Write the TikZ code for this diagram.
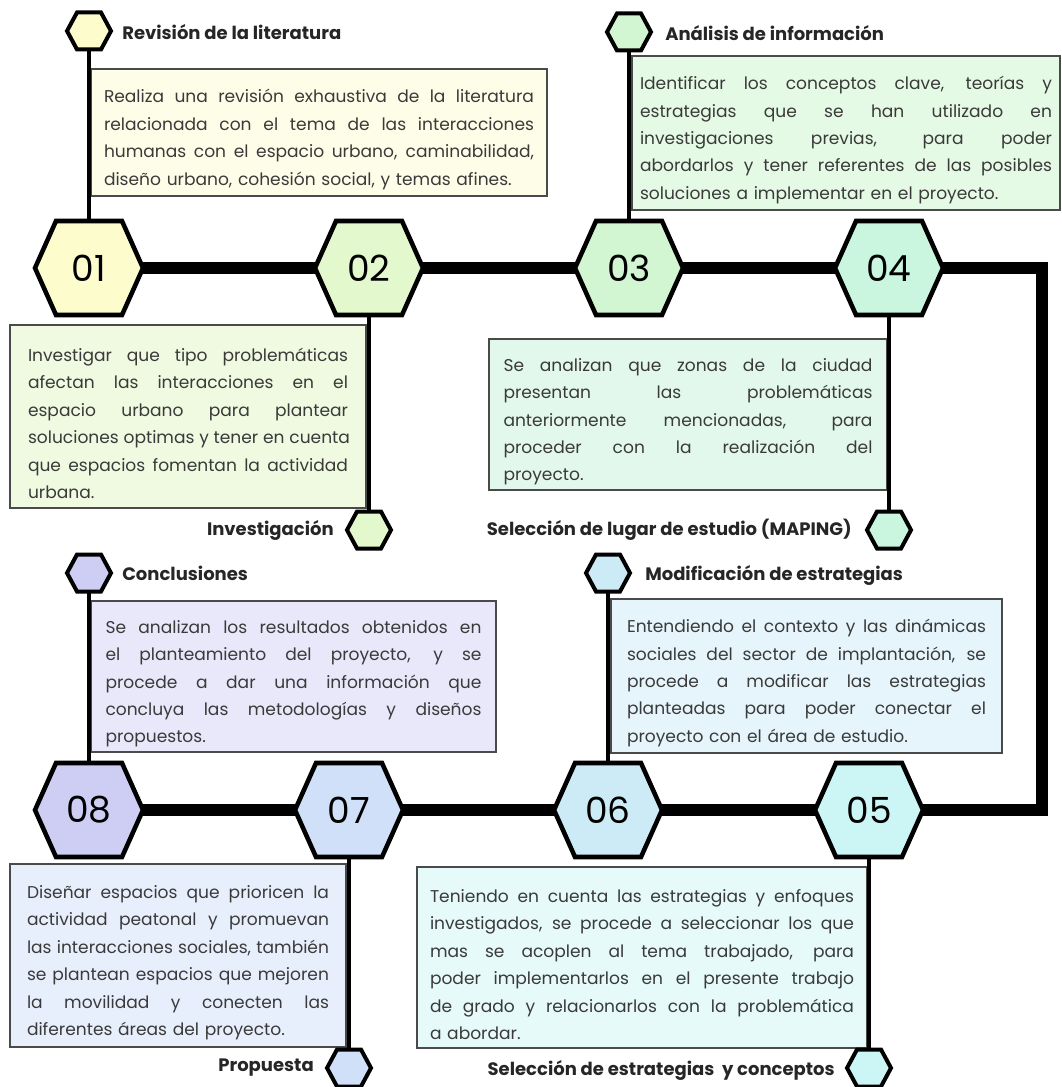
\documentclass[tikz,border=0pt]{standalone}
\usepackage{fontspec}
\setmainfont{Poppins}
\newdimen\px \px=0.75pt
\definecolor{hA}{HTML}{FCFCCC}\definecolor{bA}{HTML}{FEFEE8}
\definecolor{hB}{HTML}{E3F8CC}\definecolor{bB}{HTML}{EFFAE1}
\definecolor{hC}{HTML}{D2F5D2}\definecolor{bC}{HTML}{E4FAE4}
\definecolor{hD}{HTML}{CAF5DE}\definecolor{bD}{HTML}{E2F8EC}
\definecolor{hE}{HTML}{CCF5F5}\definecolor{bE}{HTML}{E6FAFA}
\definecolor{hF}{HTML}{CDEBF7}\definecolor{bF}{HTML}{E6F5FB}
\definecolor{hG}{HTML}{CFE0F8}\definecolor{bG}{HTML}{E8EFFC}
\definecolor{hH}{HTML}{CECEF5}\definecolor{bH}{HTML}{E8E8FA}
\definecolor{boxgray}{HTML}{4A4A4A}
\definecolor{txtgray}{HTML}{3A3A3A}
\definecolor{ttlgray}{HTML}{262626}
\newcommand{\JL}[1]{\par\hbox to \hsize{\spaceskip=0.28em plus 20em\relax #1}}
\newcommand{\LL}[1]{\par\hbox to \hsize{#1\hfil}}
\newcommand{\HexBig}[2]{\draw[bighexline, fill=#2] (#1) ++(-54,0) -- ++(21,-47) -- ++(66,0) -- ++(21,47) -- ++(-21,47) -- ++(-66,0) -- cycle;}
\newcommand{\HexSmall}[2]{\draw[smallhexline, fill=#2] (#1) ++(-22,0) -- ++(10,-18.5) -- ++(24,0) -- ++(10,18.5) -- ++(-10,18.5) -- ++(-24,0) -- cycle;}
\tikzset{
  bighexline/.style={line width=3.4pt, draw=black, line join=miter},
  smallhexline/.style={line width=3pt, draw=black, line join=miter},
  mainline/.style={line width=8.3pt, line cap=butt, line join=miter},
  thinline/.style={line width=3.6pt},
  infobox/.style={draw=boxgray, line width=1.1pt, inner sep=0pt, text=txtgray,
     font=\fontsize{12.8}{20.6}\selectfont},
  numtxt/.style={font=\fontsize{27}{27}\selectfont, text=black, inner sep=0pt},
  ttl/.style={font=\bfseries\fontsize{13.5}{15}\selectfont, text=ttlgray, inner sep=0pt},
}
\begin{document}
\begin{tikzpicture}[x=0.75pt,y=-0.75pt]
\useasboundingbox (0,0) rectangle (1061,1087);
% hub coordinates
\coordinate (c01) at (89,268);
\coordinate (c02) at (369,268);
\coordinate (c03) at (629,268);
\coordinate (c04) at (889,268);
\coordinate (c08) at (89,810);
\coordinate (c07) at (349,810);
\coordinate (c06) at (608,810);
\coordinate (c05) at (869,810);
\coordinate (s01) at (89,31);
\coordinate (s03) at (629,32);
\coordinate (s02) at (369,530);
\coordinate (s04) at (889,530);
\coordinate (s08) at (89,573);
\coordinate (s06) at (608,573);
\coordinate (s07) at (349,1068);
\coordinate (s05) at (869,1068);
\coordinate (k1) at (1042,268);
\coordinate (k2) at (1042,810);

% boxes
\node[infobox, fill=bA, minimum width=456\px, minimum height=127\px, text width=430\px] (box1) at (319,132.5) {%
\JL{Realiza una revisión exhaustiva de la literatura}%
\JL{relacionada con el tema de las interacciones}%
\JL{humanas con el espacio urbano, caminabilidad,}%
\LL{diseño urbano, cohesión social, y temas afines.}};
\node[infobox, fill=bB, minimum width=356\px, minimum height=183\px, text width=320\px] (box2) at (188,416.5) {%
\JL{Investigar que tipo problemáticas}%
\JL{afectan las interacciones en el}%
\JL{espacio urbano para plantear}%
\JL{soluciones optimas y tener en cuenta}%
\JL{que espacios fomentan la actividad}%
\LL{urbana.}};
\node[infobox, fill=bC, minimum width=428\px, minimum height=154\px, text width=412\px] (box3) at (846,133) {%
\JL{Identificar los conceptos clave, teorías y}%
\JL{estrategias que se han utilizado en}%
\JL{investigaciones previas, para poder}%
\JL{abordarlos y tener referentes de las posibles}%
\LL{soluciones a implementar en el proyecto.}};
\node[infobox, fill=bD, minimum width=398\px, minimum height=151\px, text width=369\px] (box4) at (688,414.5) {%
\JL{Se analizan que zonas de la ciudad}%
\JL{presentan las problemáticas}%
\JL{anteriormente mencionadas, para}%
\JL{proceder con la realización del}%
\LL{proyecto.}};
\node[infobox, fill=bH, minimum width=405\px, minimum height=151\px, text width=376\px] (box5) at (293.5,676.5) {%
\JL{Se analizan los resultados obtenidos en}%
\JL{el planteamiento del proyecto, y se}%
\JL{procede a dar una información que}%
\JL{concluya las metodologías y diseños}%
\LL{propuestos.}};
\node[infobox, fill=bF, minimum width=391\px, minimum height=154\px, text width=359\px] (box6) at (806.5,676) {%
\JL{Entendiendo el contexto y las dinámicas}%
\JL{sociales del sector de implantación, se}%
\JL{procede a modificar las estrategias}%
\JL{planteadas para poder conectar el}%
\LL{proyecto con el área de estudio.}};
\node[infobox, fill=bG, minimum width=336\px, minimum height=183\px, text width=302\px] (box7) at (178,955.5) {%
\JL{Diseñar espacios que prioricen la}%
\JL{actividad peatonal y promuevan}%
\JL{las interacciones sociales, también}%
\JL{se plantean espacios que mejoren}%
\JL{la movilidad y conecten las}%
\LL{diferentes áreas del proyecto.}};
\node[infobox, fill=bE, minimum width=450\px, minimum height=181\px, text width=424\px] (box8) at (642,957.5) {%
\JL{Teniendo en cuenta las estrategias y enfoques}%
\JL{investigados, se procede a seleccionar los que}%
\JL{mas se acoplen al tema trabajado, para}%
\JL{poder implementarlos en el presente trabajo}%
\JL{de grado y relacionarlos con la problemática}%
\LL{a abordar.}};

% connectors
\draw[mainline] (c01) -- (c02) -- (c03) -- (c04) -- (k1) -- (k2) -- (c05) -- (c06) -- (c07) -- (c08);
\draw[thinline] (s01) -- (c01);
\draw[thinline] (s03) -- (c03);
\draw[thinline] (c02) -- (s02);
\draw[thinline] (c04) -- (s04);
\draw[thinline] (s08) -- (c08);
\draw[thinline] (s06) -- (c06);
\draw[thinline] (c07) -- (s07);
\draw[thinline] (c05) -- (s05);

% hexagons
\HexBig{c01}{hA}\HexBig{c02}{hB}\HexBig{c03}{hC}\HexBig{c04}{hD}
\HexBig{c05}{hE}\HexBig{c06}{hF}\HexBig{c07}{hG}\HexBig{c08}{hH}
\HexSmall{s01}{hA}\HexSmall{s02}{hB}\HexSmall{s03}{hC}\HexSmall{s04}{hD}
\HexSmall{s05}{hE}\HexSmall{s06}{hF}\HexSmall{s07}{hG}\HexSmall{s08}{hH}

\node[numtxt] (n01) at (c01) {01};
\node[numtxt] (n02) at (c02) {02};
\node[numtxt] (n03) at (c03) {03};
\node[numtxt] (n04) at (c04) {04};
\node[numtxt] (n05) at (c05) {05};
\node[numtxt] (n06) at (c06) {06};
\node[numtxt] (n07) at (c07) {07};
\node[numtxt] (n08) at (c08) {08};

% titles
\node[ttl, anchor=west] (t01) at (122,32) {Revisión de la literatura};
\node[ttl, anchor=west] (t03) at (665,33) {Análisis de información};
\node[ttl, anchor=west] (t08) at (122,573) {Conclusiones};
\node[ttl, anchor=west] (t06) at (645,575) {Modificación de estrategias};
\node[ttl, anchor=east] (t02) at (334,530) {Investigación};
\node[ttl, anchor=east] (t04) at (852,530) {Selección de lugar de estudio (MAPING)};
\node[ttl, anchor=east] (t07) at (314,1068) {Propuesta};
\node[ttl, anchor=east] (t05) at (835,1070) {Selección de estrategias\ \ y conceptos};
\end{tikzpicture}
\end{document}
